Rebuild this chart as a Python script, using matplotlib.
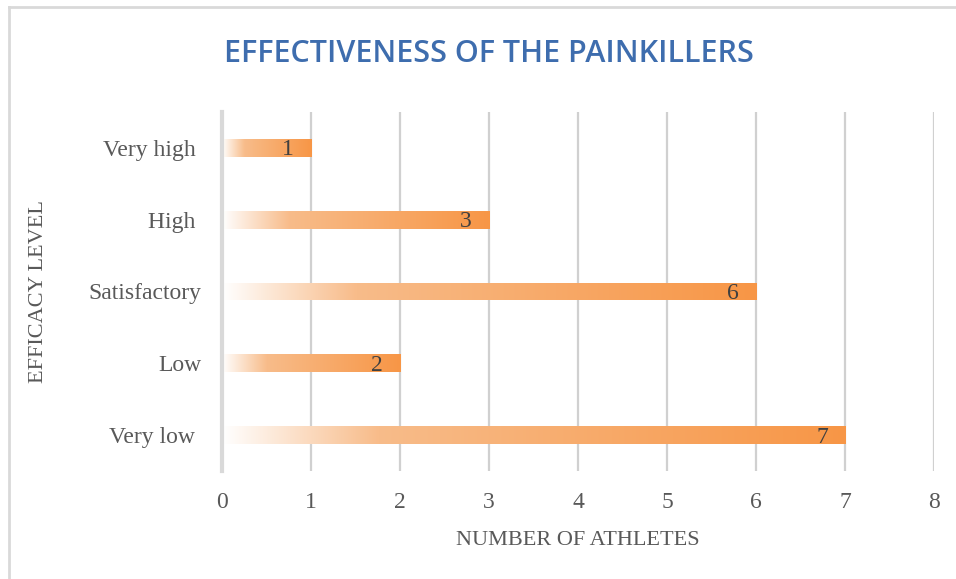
import matplotlib.pyplot as plt
import numpy as np
from matplotlib.colors import LinearSegmentedColormap
from matplotlib.lines import Line2D

# efficacy levels, bottom to top
levels = ['Very low ', 'Low', 'Satisfactory', 'High ', 'Very high ']
athletes = [7, 2, 6, 3, 1]

text_color = '#595959'
serif = ['Liberation Serif', 'DejaVu Serif']

# white -> light orange -> orange along each bar
fade = LinearSegmentedColormap.from_list(
    'fade', [(0.0, '#FFFFFF'), (0.25, '#F8BC8A'), (1.0, '#F79646')])

fig = plt.figure(figsize=(9.56, 5.79), dpi=100)
ax = fig.add_axes([0.2322, 0.1865, 0.7448, 0.6201])

ypos = np.arange(len(levels))
bars = ax.barh(ypos, athletes, height=0.25, color='none', edgecolor='none', zorder=3)

grad = np.linspace(0, 1, 256).reshape(1, -1)
for bar, val, y in zip(bars, athletes, ypos):
    im = ax.imshow(grad, cmap=fade, aspect='auto', zorder=3,
                   extent=[0, val, y - 0.125, y + 0.125], interpolation='bilinear')
    im.set_clip_path(bar)
    ax.annotate(str(val), (val, y), xytext=(-23, -2), textcoords='offset pixels',
                ha='center', va='center', fontsize=17, color='#404040',
                family=serif, zorder=4)

ax.set_xlim(0, 8)
ax.set_ylim(-0.5, len(levels) - 0.5)
ax.set_xticks(range(0, 9))
ax.set_yticks(ypos)
ax.set_yticklabels(levels)

ax.grid(axis='x', color='#D0D0D0', linewidth=1.6, zorder=0)
ax.set_axisbelow(True)
for side in ['top', 'right', 'bottom']:
    ax.spines[side].set_visible(False)
ax.spines['left'].set_color('#D9D9D9')
ax.spines['left'].set_linewidth(3)
ax.spines['left'].set_zorder(5)

ax.tick_params(axis='both', length=0, labelsize=17, labelcolor=text_color)
ax.tick_params(axis='x', pad=15)
ax.tick_params(axis='y', pad=15)
for lab in ax.get_xticklabels() + ax.get_yticklabels():
    lab.set_family(serif)

ax.set_xlabel('NUMBER OF ATHLETES', fontsize=16, color=text_color, family=serif)
ax.set_ylabel('EFFICACY LEVEL', fontsize=16, color=text_color, family=serif)
ax.xaxis.set_label_coords(0.5, -0.167)
ax.yaxis.set_label_coords(-0.245, 0.5)

fig.text(0.511, 0.906, 'EFFECTIVENESS OF THE PAINKILLERS', ha='center', va='center',
         fontsize=22, fontweight='semibold', color='#3E6DAE',
         family=['Open Sans', 'DejaVu Sans'])

# chart frame along the top and left edges
fig.add_artist(Line2D([9 / 956, 1.0], [1 - 7 / 579, 1 - 7 / 579],
                      transform=fig.transFigure, color='#D9D9D9', linewidth=2))
fig.add_artist(Line2D([9 / 956, 9 / 956], [0.0, 1 - 7 / 579],
                      transform=fig.transFigure, color='#D9D9D9', linewidth=2))

fig.savefig('out.png', dpi=100)
